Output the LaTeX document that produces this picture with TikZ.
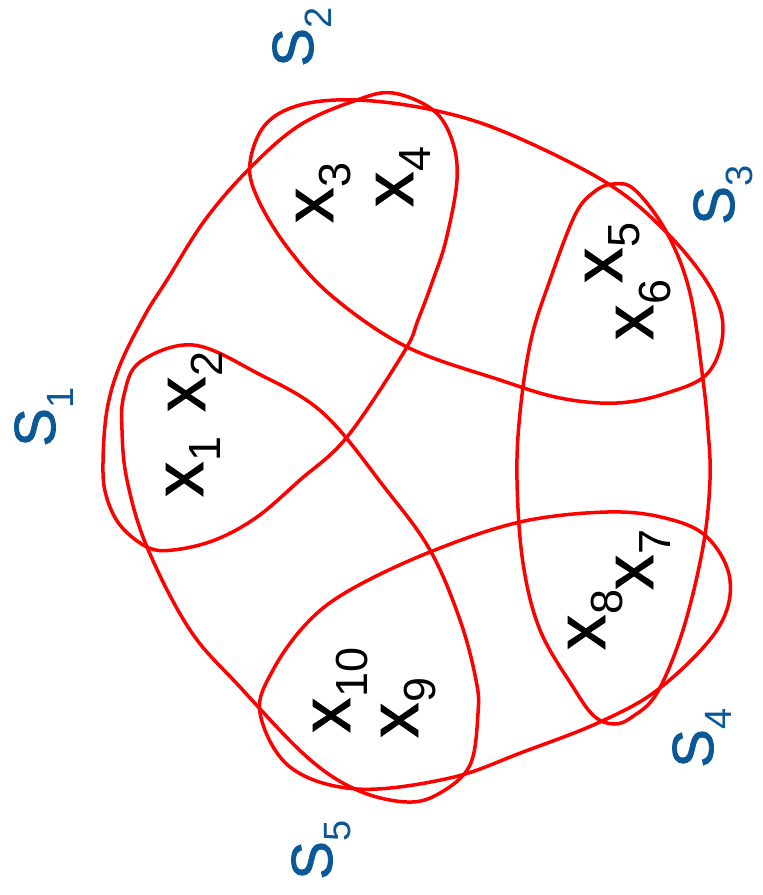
\documentclass[tikz,border=0pt]{standalone}
\usepackage{fontspec}
\setmainfont{Liberation Sans}[BoldFont=Liberation Sans,BoldFeatures={FakeBold=1.2}]
\definecolor{setblue}{RGB}{10,88,150}
\definecolor{setred}{RGB}{255,0,0}
\newcommand{\xlab}[1]{\fontsize{70}{70}\selectfont\bfseries x\raisebox{-17pt}{\fontsize{45}{45}\selectfont\mdseries #1}}
\newcommand{\slab}[1]{\fontsize{58}{58}\selectfont\bfseries S\raisebox{-18pt}{\fontsize{38}{38}\selectfont\mdseries #1}}
\begin{document}
\begin{tikzpicture}[x=1pt,y=-1pt,
  setline/.style={draw=setred,line width=3.5pt},
  elem/.style={rotate=90,anchor=base west,inner sep=0pt,text=black},
  setname/.style={rotate=90,anchor=base west,inner sep=0pt,text=setblue}]
\useasboundingbox (0,0) rectangle (763,895);
% S1: {x1,x2,x3,x4}
\draw[setline] plot[smooth cycle,tension=0.6] coordinates {
 (393,93) (433,110) (452,140) (457,180) (446,240) (433,280) (418,320) (404,352)
 (347,437) (300,480) (257,517) (215,540) (173,550) (147,547) (120,525) (106,495) (103,463)
 (107,410) (120,365) (145,315) (167,280) (205,220) (250,168) (300,125) (357,100)};
% S2: {x3,x4,x5,x6}
\draw[setline] plot[smooth cycle,tension=0.6] coordinates {
 (250,163) (257,197) (287,247) (333,297) (407,347) (500,380) (560,398) (617,403) (667,393)
 (708,373) (723,330) (710,287) (667,233) (607,183) (507,133) (433,110) (357,100) (300,105) (265,125)};
% S3: {x5,x6,x7,x8}
\draw[setline] plot[smooth cycle,tension=0.6] coordinates {
 (613,184) (635,190) (667,233) (690,293) (703,380) (708,430) (710,480) (703,547) (683,630)
 (657,693) (632,717) (614,724) (594,716) (573,687) (540,630) (523,563) (517,480) (520,413) (531,340)
 (550,280) (575,215) (594,192)};
% S4: {x7,x8,x9,x10}
\draw[setline] plot[smooth cycle,tension=0.6] coordinates {
 (260,713) (273,670) (307,623) (350,590) (430,552) (520,522) (607,512) (665,518) (707,537)
 (730,580) (717,630) (660,688) (600,722) (523,752) (450,778) (357,789) (290,767)};
% S5: {x1,x2,x9,x10}
\draw[setline] plot[smooth cycle,tension=0.6] coordinates {
 (193,345) (257,373) (323,413) (385,488) (430,550) (460,620) (476,680) (478,713) (470,765)
 (440,793) (407,802) (357,790) (307,757) (240,687) (190,630) (147,547) (127,480) (122,430)
 (124,395) (140,362)};
% elements
\node[elem] (x1) at (203,497) {\xlab{1}};
\node[elem] (x2) at (205,412) {\xlab{2}};
\node[elem] (x3) at (333,223) {\xlab{3}};
\node[elem] (x4) at (413,207) {\xlab{4}};
\node[elem] (x5) at (622,283) {\xlab{5}};
\node[elem] (x6) at (653,340) {\xlab{6}};
\node[elem] (x7) at (653,590) {\xlab{7}};
\node[elem] (x8) at (605,650) {\xlab{8}};
\node[elem] (x9) at (418,738) {\xlab{9}};
\node[elem] (x10) at (350,733) {\xlab{10}};
% set names
\node[setname] (s1) at (55,447) {\slab{1}};
\node[setname] (s2) at (313,67) {\slab{2}};
\node[setname] (s3) at (734,225) {\slab{3}};
\node[setname] (s4) at (713,768) {\slab{4}};
\node[setname] (s5) at (332,880) {\slab{5}};
\end{tikzpicture}
\end{document}
